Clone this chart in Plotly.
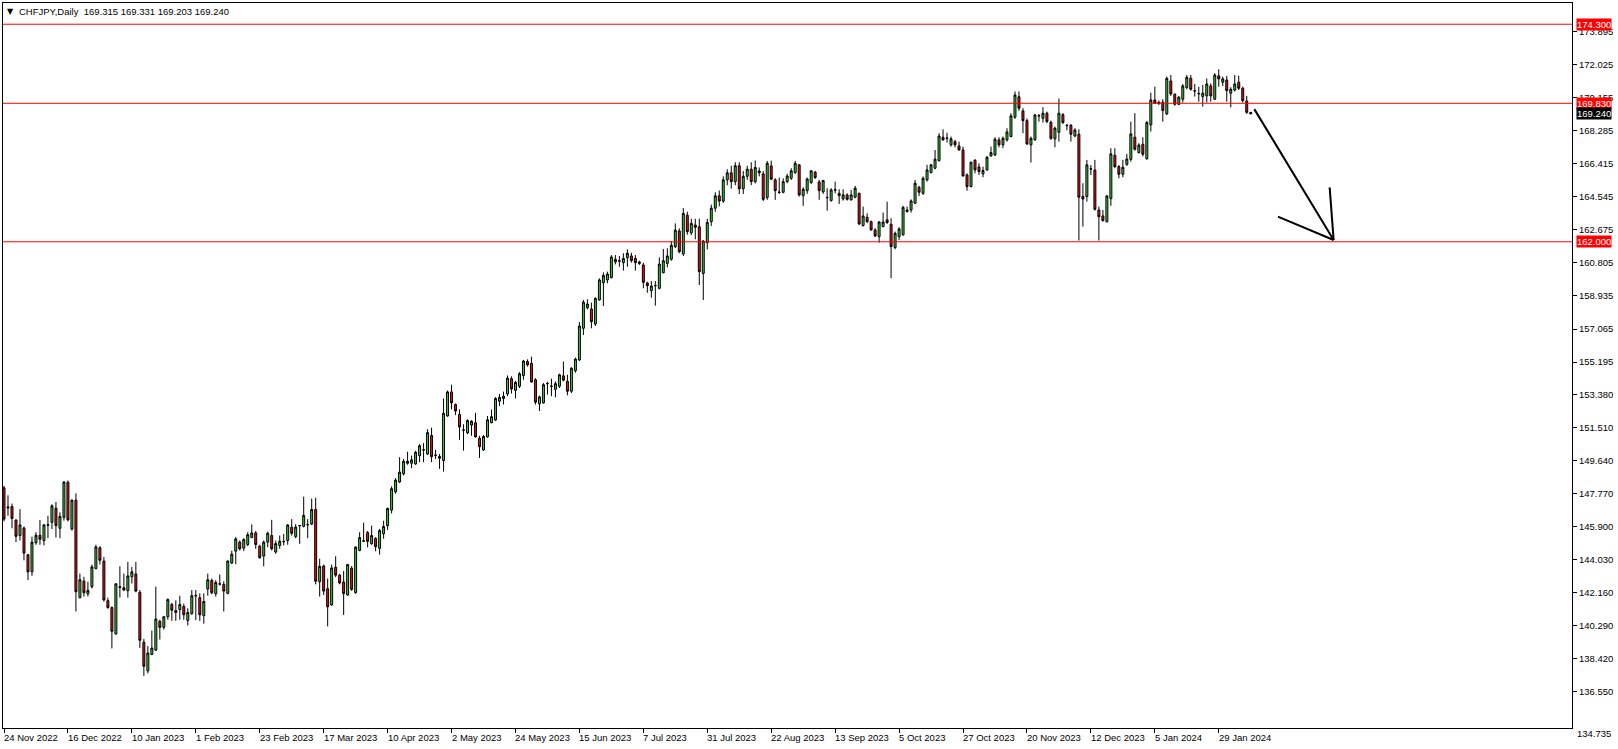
import pandas as pd
import plotly.graph_objects as go

# ---------------- data ----------------
holidays = ["2022-12-26", "2023-12-25", "2024-01-01"]
bdays = pd.bdate_range("2022-11-24", "2024-02-08")
dates = [d.strftime("%Y-%m-%d") for d in bdays if d.strftime("%Y-%m-%d") not in holidays]

open_ = [
148.09,146.95,147.03,146.27,145.39,145.82,144.31,143.34,144.98,145.41,
145.11,145.97,146.14,146.94,145.80,146.42,148.41,145.76,147.39,141.88,
142.81,142.10,142.50,143.52,144.70,143.95,141.71,141.32,139.83,142.50,
142.44,142.27,143.06,143.22,142.18,139.36,137.74,138.67,138.91,140.54,
140.20,140.80,141.49,141.15,141.21,141.38,140.59,140.98,141.97,141.88,
140.87,142.37,142.85,142.10,142.64,142.63,142.12,143.84,144.51,145.02,
144.68,144.88,145.28,145.54,144.79,144.23,145.02,145.39,144.46,144.83,
145.04,145.11,145.86,145.33,145.94,145.91,146.00,146.04,146.86,142.78,
143.67,142.38,141.47,143.60,143.15,142.76,142.03,143.55,142.16,144.55,
145.07,145.56,144.93,145.23,144.67,145.49,145.95,146.83,147.86,148.42,
148.88,149.59,149.48,149.44,149.91,150.22,150.00,151.05,149.92,149.87,
149.63,152.15,153.51,152.80,152.24,151.34,151.20,151.64,151.77,150.90,
150.23,150.97,151.77,151.92,152.99,153.14,153.40,154.26,153.60,153.83,
154.44,155.23,155.13,154.20,152.84,152.89,153.97,153.82,153.66,153.83,
154.42,154.11,153.55,154.71,155.32,157.11,158.27,158.20,157.35,158.71,
159.69,159.84,159.97,160.86,160.90,160.82,161.10,161.20,161.06,160.86,
160.69,159.67,159.24,159.51,159.37,160.25,160.78,161.01,161.72,162.61,
161.31,163.50,162.51,162.95,162.85,160.21,161.95,163.14,163.90,164.60,
164.30,165.50,165.90,165.40,166.30,165.00,165.70,166.10,165.40,165.90,
165.84,164.50,166.29,165.50,164.81,164.80,165.40,165.59,165.91,166.35,
164.61,164.89,165.35,165.93,165.38,164.82,164.49,164.33,164.92,164.74,
164.42,164.65,164.37,164.52,164.74,162.92,163.39,163.14,162.67,162.29,
162.86,163.24,162.99,161.67,162.29,162.39,163.80,163.80,164.18,165.08,
164.74,165.50,165.91,166.16,166.59,167.91,167.84,167.48,167.66,167.42,
167.19,165.78,165.12,166.61,166.23,165.84,166.06,166.85,166.91,167.76,
167.48,167.76,167.95,169.04,170.20,169.40,168.85,167.48,167.76,169.11,
168.98,169.27,168.76,167.82,168.19,169.19,168.56,168.59,167.98,168.08,
164.56,164.56,166.11,166.06,163.80,163.46,163.14,164.44,166.89,166.25,
165.82,166.38,166.66,167.91,167.04,167.51,166.70,168.61,170.02,169.89,
169.89,169.23,171.09,170.34,169.77,170.06,170.72,171.24,170.52,170.39,
170.21,170.25,170.81,170.06,171.38,171.02,171.15,170.40,170.58,171.02,
170.68,169.96,169.315]

high = [
148.20,147.67,147.20,146.30,146.88,145.90,144.35,145.33,145.58,146.27,
146.04,146.51,147.16,147.29,146.70,148.47,148.50,147.44,147.78,143.24,
143.06,142.78,143.75,144.87,144.79,144.18,141.88,141.38,142.70,143.65,
143.24,143.90,143.62,143.90,142.31,139.55,139.14,140.02,142.50,140.63,
140.85,141.84,141.58,141.73,141.99,141.54,141.28,142.31,142.31,142.12,
142.12,143.24,142.96,142.87,143.19,142.81,143.99,144.53,145.31,145.11,
145.24,145.58,146.02,145.65,144.87,145.11,145.61,146.28,145.11,145.39,
145.48,146.04,146.32,146.04,145.99,147.59,146.32,147.48,147.53,144.08,
143.75,142.96,143.75,144.22,143.23,143.38,143.79,143.66,144.78,145.58,
146.12,145.65,145.95,145.30,145.77,146.23,146.98,148.17,148.64,149.82,
149.72,150.13,149.91,150.19,150.56,150.62,151.40,151.49,150.24,150.00,
153.14,153.59,153.92,152.86,152.52,151.68,151.96,151.91,152.33,151.03,
151.07,152.15,152.52,153.21,153.40,153.53,154.44,154.39,154.14,154.63,
155.32,155.35,155.50,154.29,153.30,154.01,154.09,154.26,154.11,154.54,
155.23,154.48,154.91,155.45,157.46,158.71,158.75,158.56,158.86,159.93,
160.27,160.31,161.25,161.25,161.19,161.35,161.57,161.38,161.25,160.93,
160.82,159.74,159.78,159.78,161.12,161.59,161.63,162.04,163.04,162.76,
163.90,163.70,163.30,163.30,163.30,162.10,163.30,164.10,164.80,164.90,
165.70,166.10,166.30,166.50,166.50,166.00,166.30,166.50,166.60,166.20,
166.00,166.57,166.59,165.59,165.63,165.59,165.84,166.16,166.57,166.40,
165.08,165.63,166.06,166.01,165.50,165.50,165.03,165.03,165.40,164.97,
164.97,164.74,164.93,165.16,164.78,163.99,163.61,163.20,162.77,163.16,
163.65,164.27,163.33,162.58,162.82,164.03,163.99,164.40,165.50,165.16,
165.69,166.35,166.40,167.19,168.14,168.36,168.17,167.95,167.76,167.66,
167.38,165.87,166.53,166.67,166.44,166.25,166.85,167.38,167.91,167.91,
167.95,168.42,169.27,170.50,170.50,169.55,168.98,167.95,169.23,169.23,
169.61,169.36,168.85,168.51,170.10,169.27,168.66,168.66,168.42,168.36,
165.31,166.63,166.34,166.63,163.99,163.80,164.65,167.29,167.29,166.34,
166.63,166.97,168.79,169.27,167.57,167.91,168.83,170.43,170.77,169.98,
170.06,171.34,171.43,170.40,170.25,170.92,171.43,171.43,170.92,170.77,
170.87,171.24,170.96,171.53,171.75,171.34,171.38,170.74,171.43,171.39,
170.77,170.25,169.331]

low = [
146.20,146.51,145.80,145.02,145.11,143.99,142.87,143.11,144.87,144.87,
144.83,145.24,145.76,145.28,145.24,146.23,146.19,145.67,141.10,141.84,
141.94,141.94,142.40,143.49,143.75,141.66,141.25,139.01,139.79,141.88,
142.25,141.88,142.68,142.18,139.04,137.46,137.60,138.63,138.86,139.51,
140.07,140.63,140.57,140.57,140.63,140.63,140.31,140.91,140.61,140.57,
140.41,141.99,142.07,141.94,142.57,141.10,142.07,143.78,143.77,144.55,
144.51,144.79,145.24,144.64,144.08,143.65,144.74,144.55,144.36,144.64,
144.83,144.87,145.39,145.24,144.92,145.85,145.24,145.99,142.63,141.94,
142.03,140.26,141.42,143.04,142.63,140.90,141.98,142.26,142.11,144.50,
145.02,144.72,144.87,144.50,144.31,145.21,145.71,146.64,147.76,148.36,
148.79,149.39,149.20,149.39,149.54,149.54,149.95,149.54,149.72,149.16,
149.01,152.11,152.52,152.20,150.80,150.19,151.12,151.03,150.93,149.78,
150.19,150.93,151.74,151.87,152.71,152.80,153.27,153.42,153.14,153.73,
154.20,154.95,154.05,152.80,152.43,152.86,153.36,153.27,153.21,153.73,
154.11,153.32,153.45,154.60,155.26,156.73,158.18,157.11,157.24,158.67,
158.37,159.65,159.93,160.72,160.59,160.37,160.59,160.82,160.37,160.69,
159.37,159.12,158.84,158.39,159.31,160.22,160.55,160.93,161.65,161.35,
161.20,162.40,162.38,162.14,159.56,158.71,161.57,162.90,163.70,164.00,
164.20,165.20,165.00,165.20,164.70,164.70,165.50,165.20,165.30,165.70,
164.30,164.37,165.50,164.37,164.71,164.74,165.31,165.50,165.84,164.56,
164.03,164.71,165.27,165.55,164.37,164.71,163.76,164.27,164.74,164.14,
164.33,164.33,164.33,164.46,162.95,162.86,163.05,162.63,162.26,161.95,
162.82,163.01,159.94,161.58,162.10,162.35,163.65,163.65,164.14,164.59,
164.65,165.40,165.87,166.10,166.53,167.72,167.61,167.38,167.34,167.16,
165.69,164.89,165.08,165.87,165.78,165.65,166.03,166.82,166.85,167.34,
167.29,167.66,167.91,168.95,169.40,168.14,167.48,166.48,167.72,168.79,
168.74,168.70,167.76,167.34,167.66,168.66,168.30,167.66,167.91,162.07,
162.86,164.27,165.78,163.76,162.07,163.14,163.08,164.03,166.16,165.59,
165.65,166.29,166.53,167.15,167.00,166.82,166.63,168.23,169.79,169.74,
168.79,169.17,170.25,169.70,169.74,169.87,170.62,170.55,170.21,169.92,
169.64,169.87,169.92,170.02,170.77,170.81,169.92,169.60,170.49,170.58,
169.87,169.23,169.203]

close = [
146.32,147.00,146.36,145.35,145.99,144.40,143.34,145.02,145.41,145.18,
145.99,146.00,147.07,145.95,146.47,148.41,146.28,147.39,142.22,142.89,
142.16,142.29,143.62,144.75,143.99,141.75,141.32,139.98,142.66,142.46,
142.31,143.11,143.34,142.25,139.47,138.00,138.75,139.03,140.67,140.20,
140.80,141.77,141.17,141.04,141.49,140.91,141.04,141.99,142.00,140.91,
141.66,142.89,142.16,142.74,142.66,142.25,143.95,144.34,145.20,144.64,
145.16,145.44,145.54,144.88,144.14,145.02,145.52,144.64,144.94,145.07,
145.06,145.99,145.52,145.87,145.96,146.53,146.01,146.86,142.81,143.65,
142.25,141.36,143.56,143.15,142.71,142.11,143.75,142.35,144.74,145.28,
145.09,145.06,145.39,144.76,145.67,145.90,146.92,148.04,148.53,148.98,
149.59,149.48,149.67,150.10,150.47,150.24,151.21,149.85,149.94,149.76,
152.30,153.51,152.89,152.43,151.53,151.36,151.89,151.85,150.97,150.41,
150.99,151.94,152.11,153.14,153.21,153.27,154.29,153.68,154.05,154.54,
155.26,155.04,154.07,152.93,153.23,153.92,153.99,153.84,153.98,154.48,
154.18,153.55,154.85,155.37,157.24,158.59,158.48,157.48,158.80,159.84,
160.10,160.18,161.14,161.01,160.92,161.06,161.35,160.93,160.82,160.78,
159.71,159.52,159.50,159.53,160.74,160.93,161.20,161.80,162.66,161.44,
163.60,162.57,163.04,162.82,160.31,162.04,163.10,163.90,164.60,164.30,
165.50,165.90,165.40,166.30,165.00,165.70,166.10,165.40,166.20,166.00,
164.40,166.44,165.54,164.89,164.79,165.40,165.72,166.01,166.44,164.65,
164.97,165.55,166.01,165.63,164.89,165.46,164.51,164.93,164.94,164.61,
164.65,164.40,164.65,165.03,163.01,163.46,163.14,162.67,162.33,163.12,
163.12,163.09,161.73,162.48,162.73,163.95,163.71,164.31,165.31,164.80,
165.59,166.06,166.35,166.67,167.98,167.76,167.86,167.82,167.48,167.19,
165.72,165.12,166.50,166.06,165.97,166.03,166.78,167.04,167.80,167.48,
167.85,168.21,169.12,170.30,169.55,168.85,167.53,167.85,169.17,169.13,
169.27,168.80,167.85,168.42,169.27,168.74,168.58,168.08,168.32,164.52,
164.42,166.35,166.13,163.84,163.42,163.20,164.59,166.97,166.25,165.82,
166.21,166.68,168.10,167.23,167.47,166.95,168.74,170.02,169.83,169.81,
169.42,171.24,170.36,169.77,170.17,170.81,171.30,170.62,170.54,170.37,
170.40,170.92,170.25,171.43,171.21,171.21,170.55,170.62,170.92,170.68,
169.98,169.32,169.240]

date_tick_dates = ["2022-11-24", "2022-12-16", "2023-01-10", "2023-02-01", "2023-02-23",
                   "2023-03-17", "2023-04-10", "2023-05-02", "2023-05-24", "2023-06-15",
                   "2023-07-07", "2023-07-31", "2023-08-22", "2023-09-13", "2023-10-05",
                   "2023-10-27", "2023-11-20", "2023-12-12", "2024-01-05", "2024-01-29"]
date_tick_labels = ["24 Nov 2022", "16 Dec 2022", "10 Jan 2023", "1 Feb 2023", "23 Feb 2023",
                    "17 Mar 2023", "10 Apr 2023", "2 May 2023", "24 May 2023", "15 Jun 2023",
                    "7 Jul 2023", "31 Jul 2023", "22 Aug 2023", "13 Sep 2023", "5 Oct 2023",
                    "27 Oct 2023", "20 Nov 2023", "12 Dec 2023", "5 Jan 2024", "29 Jan 2024"]

price_ticks = [136.550, 138.420, 140.290, 142.160, 144.030, 145.900, 147.770, 149.640,
               151.510, 153.380, 155.195, 157.065, 158.935, 160.805, 162.675, 164.545,
               166.415, 168.285, 170.155, 172.025, 173.895]
bottom_label = 134.735

levels = [174.300, 169.830, 162.000]
last_price = 169.240
title_text = "CHFJPY,Daily\u00a0\u00a0169.315 169.331 169.203 169.240"

# hand-drawn arrow (bar index, price)
arrow_main_x = [312.9, 332.75]
arrow_main_y = [169.50, 162.10]
arrow_barb1_x = [318.8, 332.75]
arrow_barb1_y = [163.42, 162.10]
arrow_barb2_x = [331.75, 332.75]
arrow_barb2_y = [165.08, 162.10]

# ---------------- style ----------------
GREEN = "#3ccc3c"
RED = "#ee1111"
FONT = "Liberation Sans, Arial, DejaVu Sans, sans-serif"
FS = 9.5

fig = go.Figure()
fig.add_trace(go.Candlestick(
    x=dates, open=open_, high=high, low=low, close=close,
    increasing=dict(line=dict(color="black", width=1), fillcolor=GREEN),
    decreasing=dict(line=dict(color="black", width=1), fillcolor=RED),
    whiskerwidth=0, hoverinfo="skip", showlegend=False,
))

shapes = []
for lv in levels:
    shapes.append(dict(type="line", xref="paper", x0=0, x1=1, yref="y", y0=lv, y1=lv,
                       line=dict(color="#ff0000", width=1), layer="above"))
for xs, ys in [(arrow_main_x, arrow_main_y), (arrow_barb1_x, arrow_barb1_y), (arrow_barb2_x, arrow_barb2_y)]:
    shapes.append(dict(type="line", xref="x", yref="y", x0=xs[0], x1=xs[1], y0=ys[0], y1=ys[1],
                       line=dict(color="black", width=2), layer="above"))

annotations = []
for d, t in zip(date_tick_dates, date_tick_labels):
    annotations.append(dict(x=d, xref="x", y=0, yref="paper", text=t, showarrow=False,
                            xanchor="left", yanchor="top", xshift=-2, yshift=-2,
                            font=dict(family=FONT, size=FS, color="black")))
annotations.append(dict(x=1, xref="paper", y=0, yref="paper", text=f"{bottom_label:.3f}",
                        showarrow=False, xanchor="left", yanchor="middle", xshift=3, yshift=-5,
                        font=dict(family=FONT, size=FS, color="black")))
for lv in levels:
    annotations.append(dict(x=1, xref="paper", y=lv, yref="y", text=f"{lv:.3f}", showarrow=False,
                            xanchor="left", yanchor="middle", xshift=4, bgcolor="#ff0000",
                            borderpad=0, font=dict(family=FONT, size=FS, color="white")))
annotations.append(dict(x=1, xref="paper", y=last_price, yref="y", text=f"{last_price:.3f}",
                        showarrow=False, xanchor="left", yanchor="middle", xshift=4, bgcolor="black",
                        borderpad=0, font=dict(family=FONT, size=FS, color="white")))
annotations.append(dict(x=0, xref="paper", y=1, yref="paper", text="\u25bc", showarrow=False,
                        xanchor="left", yanchor="middle", xshift=2, yshift=-8,
                        font=dict(family="DejaVu Sans", size=8, color="black")))
annotations.append(dict(x=0, xref="paper", y=1, yref="paper", text=title_text, showarrow=False,
                        xanchor="left", yanchor="middle", xshift=14, yshift=-8,
                        font=dict(family=FONT, size=FS, color="black")))

fig.update_layout(
    width=1618, height=749,
    margin=dict(l=3, r=46, t=3, b=21),
    paper_bgcolor="white", plot_bgcolor="white",
    showlegend=False,
    shapes=shapes, annotations=annotations,
    xaxis=dict(type="category", range=[-0.25, 392.4], rangeslider=dict(visible=False),
               showgrid=False, zeroline=False, tickmode="array", tickvals=date_tick_dates,
               showticklabels=False, ticks="outside", ticklen=4, tickcolor="black",
               showline=True, linecolor="black", linewidth=1, mirror=True, fixedrange=True),
    yaxis=dict(side="right", range=[134.51, 175.50], showgrid=False, zeroline=False,
               tickmode="array", tickvals=price_ticks, ticktext=[f"{v:.3f}" for v in price_ticks],
               ticks="outside", ticklen=4, tickcolor="black",
               tickfont=dict(family=FONT, size=FS, color="black"),
               showline=True, linecolor="black", linewidth=1, mirror=True, fixedrange=True),
)

fig.write_html("out.html", config={"displayModeBar": False},
               post_script="document.body.style.margin='0px';document.body.style.overflow='hidden';")
